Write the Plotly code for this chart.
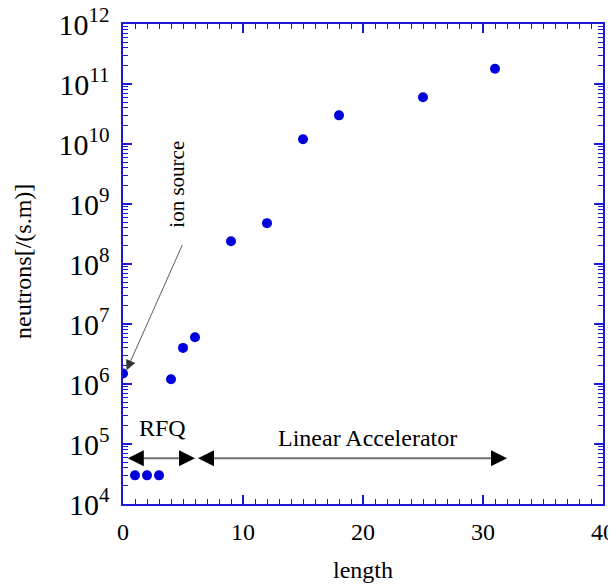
import numpy as np
import plotly.graph_objects as go

# data
length = [0, 1, 2, 3, 4, 5, 6, 9, 12, 15, 18, 25, 31]
neutrons = [1.5e6, 3e4, 3e4, 3e4, 1.2e6, 4e6, 6e6, 2.4e8, 4.8e8, 1.2e10, 3e10, 6e10, 1.8e11]

rfq_span = [0.4, 6.0]
linac_span = [6.25, 32.0]
span_level = 5.8e4
ion_tip = [0.3, 1.7e6]
ion_tail = [5.0, 2.2e8]

blue = "#0000dd"
axis_blue = "#1a1ad6"
font = "Liberation Serif"

fig = go.Figure()
fig.add_trace(go.Scatter(x=length, y=neutrons, mode="markers",
                         marker=dict(color=blue, size=10), showlegend=False))

lv = np.log10(span_level)

# gray shafts of the span arrows
for x0, x1 in (rfq_span, linac_span):
    fig.add_shape(type="line", x0=x0 + 0.5, x1=x1 - 0.5, y0=span_level, y1=span_level,
                  xref="x", yref="y", line=dict(color="#707070", width=2))

# black heads (short black arrows at the ends of the gray shafts)
for x0, x1 in (rfq_span, linac_span):
    for tip, tail in ((x0, x0 + 0.6), (x1, x1 - 0.6)):
        fig.add_annotation(x=tip, y=lv, ax=tail, ay=lv, xref="x", yref="y",
                           axref="x", ayref="y", showarrow=True, arrowhead=2,
                           arrowsize=1.6, arrowwidth=2, arrowcolor="black", text="")

fig.add_annotation(x=ion_tip[0], y=np.log10(ion_tip[1]), ax=ion_tail[0], ay=np.log10(ion_tail[1]),
                   xref="x", yref="y", axref="x", ayref="y", showarrow=True,
                   arrowhead=2, arrowsize=2.5, arrowwidth=0.8, arrowcolor="#333333", text="")

fig.add_annotation(x=3.25, y=np.log10(1.85e5), text="RFQ", showarrow=False,
                   font=dict(family=font, size=24, color="black"))
fig.add_annotation(x=20.4, y=np.log10(1.26e5), text="Linear Accelerator", showarrow=False,
                   font=dict(family=font, size=24, color="black"))
fig.add_annotation(x=4.5, y=np.log10(2.1e9), text="ion source", showarrow=False, textangle=-90,
                   font=dict(family=font, size=21, color="black"))

# axis titles, placed in pixels from the plot area (480x480)
fig.add_annotation(x=0.5, y=-(570 - 504) / 480, xref="paper", yref="paper", text="length",
                   showarrow=False, yanchor="middle",
                   font=dict(family=font, size=24, color="black"))
fig.add_annotation(x=-(123 - 23) / 480, y=(504 - 262) / 480, xref="paper", yref="paper",
                   text="neutrons[/(s.m)]", textangle=-90, showarrow=False,
                   xanchor="center", yanchor="middle",
                   font=dict(family=font, size=24, color="black"))

# page body adds 8px, so margins are 8px less than the picture's pixels
fig.update_layout(
    width=616, height=584,
    margin=dict(l=115, r=21, t=16, b=88, autoexpand=False),
    plot_bgcolor="white", paper_bgcolor="white",
    font=dict(family=font, size=24, color="black"),
    xaxis=dict(range=[0, 40], dtick=10, ticks="inside", ticklen=9, tickwidth=1.5,
               tickcolor=axis_blue, showline=True, linecolor=axis_blue, linewidth=1.5,
               mirror="ticks", showgrid=False, zeroline=False, automargin=False,
               ticklabelstandoff=5, ticklabeloverflow="allow",
               minor=dict(dtick=1, ticks="inside", ticklen=5, tickcolor=axis_blue, tickwidth=1)),
    yaxis=dict(type="log", range=[4, 12], dtick=1, exponentformat="power",
               ticks="inside", ticklen=9, tickwidth=1.5, tickcolor=axis_blue,
               showline=True, linecolor=axis_blue, linewidth=1.5, mirror="ticks",
               showgrid=False, zeroline=False, automargin=False, ticklabelstandoff=7,
               ticklabeloverflow="allow",
               minor=dict(dtick="D1", ticks="inside", ticklen=5, tickcolor=axis_blue, tickwidth=1)),
    yaxis2=dict(type="log", range=[4, 12], dtick=1, overlaying="y", side="left",
                ticks="outside", ticklen=9, tickwidth=1.5, tickcolor=axis_blue,
                showticklabels=False, showline=False, mirror="ticks",
                showgrid=False, zeroline=False, automargin=False),
)

fig.write_html("out.html")
